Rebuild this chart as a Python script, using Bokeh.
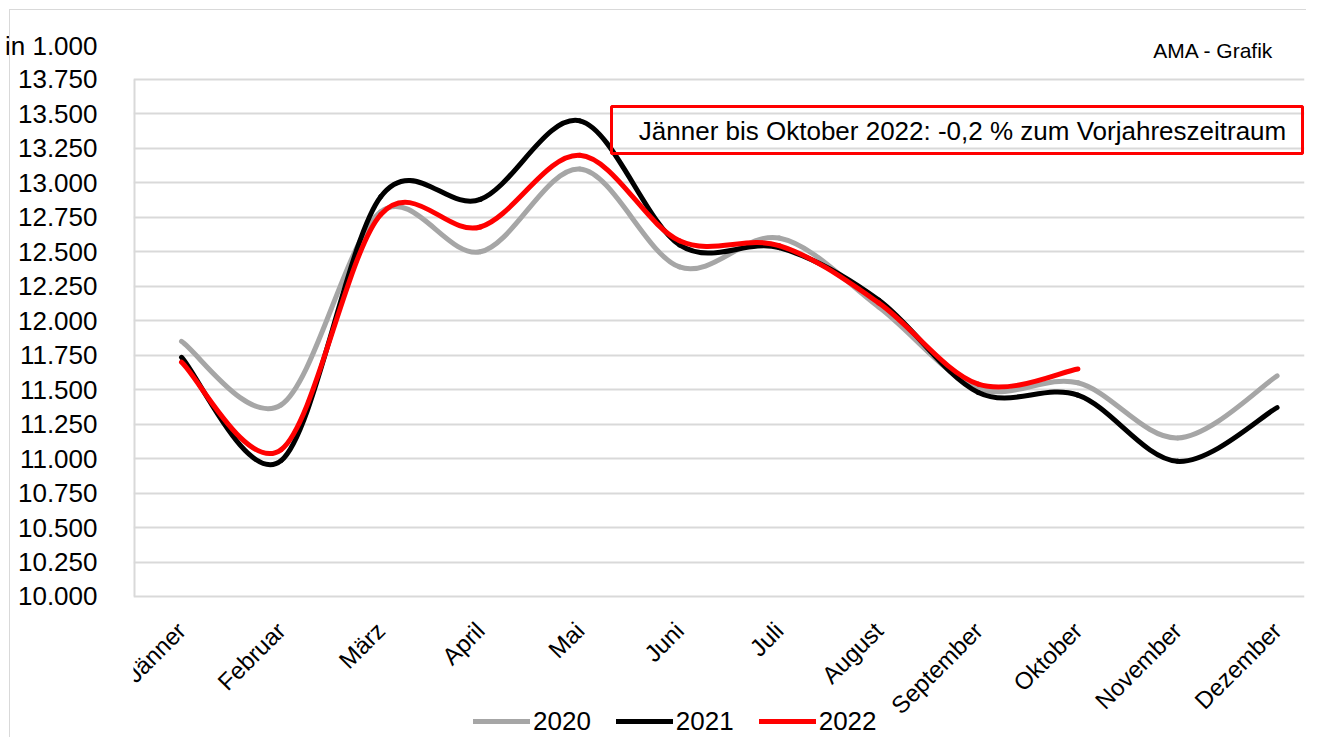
import numpy as np
from bokeh.plotting import figure
from bokeh.models import (FixedTicker, Label, BoxAnnotation, Legend, LegendItem,
                          ColumnDataSource, InlineStyleSheet)
from bokeh.core.properties import value
from bokeh.embed import file_html
from bokeh.resources import INLINE

months = ["Jänner", "Februar", "März", "April", "Mai", "Juni", "Juli",
          "August", "September", "Oktober", "November", "Dezember"]
values_2020 = [11850, 11390, 12790, 12500, 13100, 12390, 12600, 12100, 11510, 11550, 11150, 11600]
values_2021 = [11735, 10985, 12900, 12880, 13450, 12550, 12530, 12150, 11480, 11460, 10980, 11370]
values_2022 = [11700, 11065, 12770, 12680, 13200, 12580, 12545, 12130, 11540, 11650]
series_names = ["2020", "2021", "2022"]
series_colors = ["#a6a6a6", "#000000", "#ff0000"]
y_ticks = [10000, 10250, 10500, 10750, 11000, 11250, 11500, 11750, 12000,
           12250, 12500, 12750, 13000, 13250, 13500, 13750]
y_tick_labels = ["10.000", "10.250", "10.500", "10.750", "11.000", "11.250", "11.500",
                 "11.750", "12.000", "12.250", "12.500", "12.750", "13.000", "13.250",
                 "13.500", "13.750"]
unit_text = "in 1.000"
unit_pos = 13990          # where the unit caption sits on the value axis
note_text = "Jänner bis Oktober 2022: -0,2 % zum Vorjahreszeitraum"
source_text = "AMA - Grafik"

FONT = "Liberation Sans"


def smooth_segments(vals):
    """Excel-like smoothed line: cubic Bezier segments through the data points."""
    pts = [np.array([float(i), float(v)]) for i, v in enumerate(vals)]
    n = len(pts)
    d = dict(x0=[], y0=[], x1=[], y1=[], cx0=[], cy0=[], cx1=[], cy1=[])
    for i in range(n - 1):
        p0 = pts[i - 1] if i > 0 else pts[i]
        p1 = pts[i]
        p2 = pts[i + 1]
        p3 = pts[i + 2] if i + 2 < n else pts[i + 1]
        c1 = p1 + (p2 - p0) / 6.0
        c2 = p2 - (p3 - p1) / 6.0
        d["x0"].append(p1[0]); d["y0"].append(p1[1])
        d["x1"].append(p2[0]); d["y1"].append(p2[1])
        d["cx0"].append(c1[0]); d["cy0"].append(c1[1])
        d["cx1"].append(c2[0]); d["cy1"].append(c2[1])
    return ColumnDataSource(d)


# frame spans x 133..1304 px and the full height; 13.750 sits at 79 px, 10.000 at 596 px
X0, X1 = -0.482, 11.275
p = figure(width=1306, height=737, output_backend="svg", toolbar_location=None,
           x_range=(X0, X1), y_range=(8977, 14323),
           x_axis_location=None,
           min_border_left=133, min_border_right=2, min_border_top=0,
           min_border_bottom=0)
p.outline_line_color = None
p.background_fill_color = "white"
p.border_fill_color = "white"
p.stylesheets = [InlineStyleSheet(css=(
    ":host { position: relative; }"
    ":host::after { content: ''; position: absolute; left: 9px; top: 9px; right: 0; bottom: 0;"
    " border-left: 1px solid #d9d9d9; border-top: 1px solid #d9d9d9; pointer-events: none; }"))]

# grid
p.xgrid.grid_line_color = None
p.ygrid.ticker = FixedTicker(ticks=y_ticks)
p.ygrid.grid_line_color = "#d9d9d9"
p.ygrid.grid_line_width = 2

# value axis (its caption "in 1.000" sits above the top tick)
p.yaxis.ticker = FixedTicker(ticks=y_ticks + [unit_pos])
overrides = {t: l for t, l in zip(y_ticks, y_tick_labels)}
overrides[unit_pos] = unit_text
p.yaxis.major_label_overrides = overrides
p.yaxis.axis_line_color = None
p.yaxis.major_tick_line_color = None
p.yaxis.minor_tick_line_color = None
p.yaxis.major_label_standoff = 30
p.yaxis.major_label_text_font = FONT
p.yaxis.major_label_text_font_size = "26px"
p.yaxis.major_label_text_color = "black"
# visible part of the value axis line: 10.000 .. 13.750 only
p.segment(x0=[X0], y0=[y_ticks[0]], x1=[X0], y1=[y_ticks[-1]],
          line_color="#d9d9d9", line_width=4)

# category labels under the value axis
cat_src = ColumnDataSource(dict(x=list(range(len(months))), y=[y_ticks[0]] * len(months), text=months))
p.text(x="x", y="y", text="text", source=cat_src, angle=np.pi / 4,
       text_align="right", text_baseline="middle", x_offset=0, y_offset=30,
       text_font=value(FONT), text_font_size="24px", text_color="black")

renderers = []
for vals, color in zip([values_2020, values_2021, values_2022], series_colors):
    src = smooth_segments(vals)
    r = p.bezier(x0="x0", y0="y0", x1="x1", y1="y1", cx0="cx0", cy0="cy0",
                 cx1="cx1", cy1="cy1", source=src, line_color=color,
                 line_width=5, line_cap="round")
    renderers.append(r)

# series legend at the bottom
legend = Legend(items=[LegendItem(label=n, renderers=[r]) for n, r in zip(series_names, renderers)],
                orientation="horizontal", location=(340, 0),
                glyph_width=57, glyph_height=32, label_height=32, label_standoff=3,
                spacing=25, padding=0, margin=0, border_line_color=None,
                background_fill_alpha=0, label_text_font=FONT,
                label_text_font_size="26px", label_text_color="black")
p.add_layout(legend)

# source caption, top right
p.add_layout(Label(x=1140, y=687, x_units="screen", y_units="screen", text=source_text,
                   text_align="right", text_baseline="alphabetic", text_font=FONT,
                   text_font_size="21px", text_color="black"))

# annotation box
box = BoxAnnotation(left=478, right=1169, top=631, bottom=584,
                    left_units="screen", right_units="screen",
                    top_units="screen", bottom_units="screen",
                    fill_alpha=0, line_color="#ff0000", line_alpha=1, line_width=3)
p.add_layout(box)
p.add_layout(Label(x=829, y=607, x_units="screen", y_units="screen", text=note_text,
                   text_align="center", text_baseline="middle", text_font=FONT,
                   text_font_size="26px", text_color="black"))

open("out.html", "w").write(file_html(p, INLINE))
